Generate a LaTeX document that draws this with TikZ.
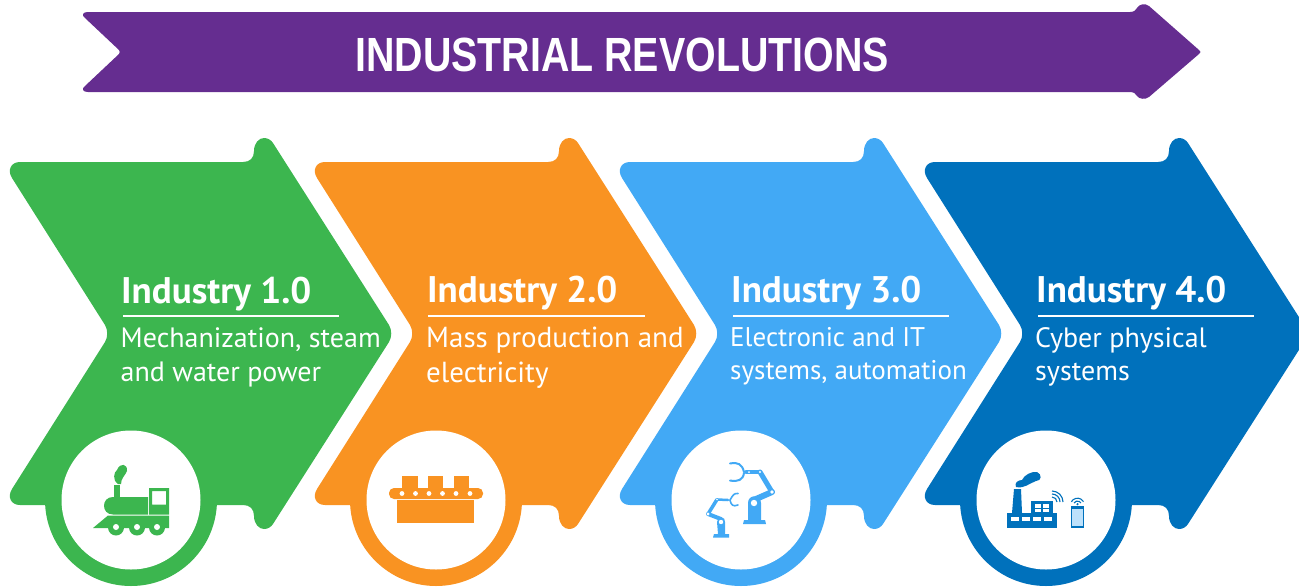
\documentclass[tikz,border=0pt]{standalone}
\usepackage{fontspec}
\setmainfont{PT Sans}
\newfontfamily\titlefont[FakeStretch=0.82]{Liberation Sans}
\usepackage{xcolor}
\definecolor{revpurple}{HTML}{652D90}
\definecolor{revgreen}{HTML}{3CB64F}
\definecolor{revorange}{HTML}{F99322}
\definecolor{revsky}{HTML}{42A9F5}
\definecolor{revblue}{HTML}{0071BC}
\tikzset{
  headtext/.style={text=white,anchor=base west,inner sep=0pt,font=\fontsize{37}{37}\selectfont\bfseries},
  bodytext/.style={text=white,anchor=base west,inner sep=0pt,font=\fontsize{#1}{#1}\selectfont},
  headrule/.style={draw=white,line width=2.5pt},
  robotarm/.style={line cap=round,line join=round},
  chevron/.pic={
    \fill (20,162) -- (243,162) .. controls (250,162) and (254,158) .. (254,151)
      .. controls (254,143) and (259,138) .. (264,138)
      .. controls (268,138) and (271,140) .. (273,143) -- (389,325)
      .. controls (392,330) and (392,337) .. (389,342) -- (273,524)
      .. controls (271,527) and (268,529) .. (264,529)
      .. controls (259,529) and (254,524) .. (254,516)
      .. controls (254,509) and (250,505) .. (243,505) -- (20,505)
      .. controls (11,505) and (7,497) .. (12,489) -- (105,342)
      .. controls (108,337) and (108,330) .. (105,325) -- (12,178)
      .. controls (7,170) and (11,162) .. (20,162) -- cycle;
    \fill (131,500) circle (86);
    \fill[white] (131,500) circle (69.5);
  }
}
\begin{document}
\begin{tikzpicture}[x=1pt,y=-1pt]
  \useasboundingbox (0,0) rectangle (1299,587);
  % top arrow
  \fill[revpurple] (88,12) -- (1130,12) .. controls (1134,12) and (1136,10) .. (1137,8)
    .. controls (1139,4) and (1145,3) .. (1149,6) -- (1199,50)
    .. controls (1201,51) and (1201,53) .. (1199,54) -- (1149,97)
    .. controls (1145,100) and (1139,99) .. (1137,96)
    .. controls (1136,94) and (1134,92) .. (1130,92) -- (88,92)
    .. controls (83,92) and (81,89) .. (85,86) -- (119,54)
    .. controls (120,53) and (120,51) .. (119,50) -- (85,18)
    .. controls (81,15) and (83,12) .. (88,12) -- cycle;
  \node[text=white,inner sep=0pt,anchor=base] (title) at (622,71) {\titlefont\bfseries\fontsize{48}{48}\selectfont INDUSTRIAL REVOLUTIONS};
  % chevrons
  \pic[revgreen] at (0,0) {chevron};
  \pic[revorange] at (305,0) {chevron};
  \pic[revsky] at (610,0) {chevron};
  \pic[revblue] at (915,0) {chevron};
  % texts
  \node[headtext] (head1) at (121,303) {Industry 1.0};
  \draw[headrule] (123,316) -- (339,316);
  \node[bodytext=28] (body1a) at (120.5,347) {Mechanization, steam};
  \node[bodytext=28] (body1b) at (120.5,381) {and water power};
  \node[headtext] (head2) at (427,302.5) {Industry 2.0};
  \draw[headrule] (428,316) -- (645,316);
  \node[bodytext=29] (body2a) at (426,347) {Mass production and};
  \node[bodytext=29] (body2b) at (426,382) {electricity};
  \node[headtext] (head3) at (731,302.5) {Industry 3.0};
  \draw[headrule] (733,316) -- (949,316);
  \node[bodytext=27] (body3a) at (730,346) {Electronic and IT};
  \node[bodytext=27] (body3b) at (730,379) {systems, automation};
  \node[headtext] (head4) at (1036,302.5) {Industry 4.0};
  \draw[headrule] (1038,316) -- (1254,316);
  \node[bodytext=28] (body4a) at (1035,347) {Cyber physical};
  \node[bodytext=28] (body4b) at (1035,380) {systems};
  % train
  \begin{scope}[revgreen]
    \fill (93,528) -- (108,515.5) -- (169,515.5) -- (169,528) -- cycle;
    \fill (113,497) -- (148,497) -- (148,514.5) -- (113,514.5) .. controls (101,514.5) and (101,497) .. (113,497) -- cycle;
    \fill (114,485) rectangle (120,497);
    \fill (118,484) .. controls (112,480) and (114,472) .. (117,470) .. controls (120,462) and (128,464) .. (127,471) .. controls (125,476) and (121,478) .. (121,484) -- cycle;
    \fill[even odd rule] (149,488) rectangle (169,514.5) (152,491) rectangle (166,504.5);
    \foreach \cx in {116,137,157} {
      \fill (\cx,527.5) circle (8);
      \fill[white] (\cx,527) circle (3);
    }
  \end{scope}
  % conveyor
  \begin{scope}[revorange]
    \fill (402,476) rectangle (418,488);
    \fill (428,476) rectangle (443,488);
    \fill (454,476) rectangle (469,488);
    \fill[rounded corners=5pt] (389,488) rectangle (483,499);
    \foreach \cx in {402,415.5,429,442.5,456,470} \fill[white] (\cx,493.5) circle (2.4);
    \fill (397,500) rectangle (474,523);
  \end{scope}
  % robots
  \begin{scope}[revsky]
    \fill (743,524) -- (744,520) -- (748,520) -- (748,517) -- (748,503) .. controls (748,494) and (761,494) .. (761,503) -- (761,520) -- (765,520) -- (766,524) -- cycle;
    \draw[robotarm,line width=6pt] (756,499) -- (772,492);
    \draw[robotarm,line width=5pt] (772,492) -- (760,472);
    \draw[robotarm,line width=3.5pt] (760,472) -- (746,472);
    \draw[robotarm,line width=2pt] (744,472) .. controls (742,464) and (738,462) .. (730,463.5);
    \draw[robotarm,line width=2pt] (744,473) .. controls (743,480) and (738,482) .. (730,480.5);
    \fill[white] (754,503) circle (3.2);
    \fill[white] (772,492) circle (1.8);
    \fill[white] (760,472) circle (1.2);
    \fill[white] (749,472) circle (1);
    \fill (713,537.5) -- (714,534) -- (718,534) -- (717,522) .. controls (717,516) and (726,516) .. (725,522) -- (725,534) -- (729,534) -- (729,537.5) -- cycle;
    \draw[robotarm,line width=4pt] (721,519) -- (708,514);
    \draw[robotarm,line width=3.5pt] (708,514) -- (717,499.5);
    \draw[robotarm,line width=2.5pt] (717,499.5) -- (728,500);
    \draw[robotarm,line width=1.6pt] (730,500) .. controls (733,495) and (734,493) .. (738,493.5);
    \draw[robotarm,line width=1.6pt] (730,500) .. controls (731,505) and (733,507) .. (738,505);
    \fill[white] (708,514) circle (1.6);
    \fill[white] (721,522) circle (2.2);
    \fill[white] (717,499.5) circle (.9);
  \end{scope}
  % factory
  \begin{scope}[revblue]
    \fill (1007,513) rectangle (1057,528);
    \fill (1012,513) -- (1014,489) -- (1021,489) -- (1022,513) -- cycle;
    \fill (1016,487) .. controls (1014,483) and (1018,480) .. (1022,480) .. controls (1024,475) and (1032,471) .. (1037,472) .. controls (1042,474) and (1042,481) .. (1036,481) .. controls (1030,483) and (1024,489) .. (1016,487) -- cycle;
    \fill (1031,501) rectangle (1053,513);
    \foreach \cx in {1010.5,1021.5,1033,1044} \fill[white] (\cx,517) rectangle ++(8,4);
    \fill[white] (1035,504) rectangle ++(6,3.5);
    \fill[white] (1043,504) rectangle ++(6,3.5);
    \fill[white] (1035,509) rectangle ++(6,3);
    \fill[white] (1043,509) rectangle ++(6,3);
    \draw[line width=1.1pt] (1052,491) arc (-90:0:11);
    \draw[line width=1.1pt] (1052,494) arc (-90:0:8);
    \draw[line width=1.1pt] (1052,497) arc (-90:0:5);
    \fill[revsky!35] (1071.5,506.5) rectangle (1083.5,527.5);
    \draw[line width=1pt] (1071.5,506.5) rectangle (1083.5,527.5);
    \fill (1071.5,506.5) rectangle (1083.5,508.5);
    \fill (1071.5,525.5) rectangle (1083.5,527.5);
    \draw[line width=1.1pt] (1071.4,501.7) arc (-150:-30:7);
    \draw[line width=1.1pt] (1074,503) arc (-150:-30:4);
    \fill (1077.5,504.2) circle (1.2);
  \end{scope}
\end{tikzpicture}
\end{document}
